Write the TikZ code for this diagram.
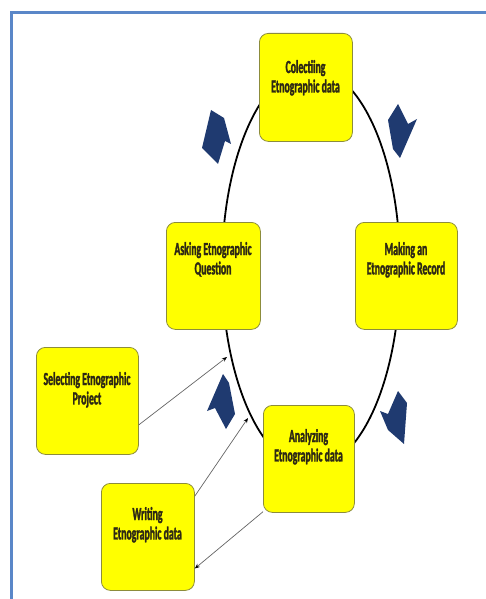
\documentclass[tikz,border=0pt]{standalone}
\usepackage{fontspec}
\newfontfamily\boxfont[FakeStretch=0.53, BoldFeatures={FakeBold=1.6}]{Carlito}
\usetikzlibrary{arrows.meta}
\definecolor{frameblue}{RGB}{90,135,200}
\definecolor{boxline}{RGB}{140,140,60}
\definecolor{boxyellow}{RGB}{255,255,0}
\definecolor{navy}{RGB}{31,58,112}
\definecolor{txt}{RGB}{45,40,20}
\definecolor{conn}{RGB}{100,100,100}
\newcommand\twolines[2]{\begin{tabular}[t]{@{}c@{}}#1\\#2\end{tabular}}
\tikzset{
 stagebox/.style={draw=boxline, line width=0.8bp, fill=boxyellow, rounded corners=9bp, inner sep=0pt, anchor=north west},
 stagetext/.style={anchor=base, inner sep=0pt, text=txt, font=\boxfont\bfseries\fontsize{18.5}{19.5}\selectfont},
 cycleline/.style={line width=1.8bp, black},
 link/.style={draw=conn, line width=0.7bp, -{Stealth[length=5bp,width=4bp,black]}},
 turnarrow/.style={fill=navy},
}
\begin{document}
\begin{tikzpicture}[x=1bp,y=-1bp]
\useasboundingbox (0,0) rectangle (486,599);
% frame
\draw[frameblue, line width=2.2bp] (11.5,599) -- (11.5,12.5) -- (486,12.5);
% cycle
\draw[cycleline] (311,268) ellipse [x radius=89, y radius=200];
% boxes
\node[stagebox, minimum width=93bp, minimum height=108bp] (col) at (259,33) {};
\node[stagebox, minimum width=102bp, minimum height=107bp] (mak) at (355,222) {};
\node[stagebox, minimum width=94bp, minimum height=107bp] (ask) at (166,222) {};
\node[stagebox, minimum width=91bp, minimum height=107bp] (ana) at (263,405) {};
\node[stagebox, minimum width=102bp, minimum height=107bp] (sel) at (36,347) {};
\node[stagebox, minimum width=93bp, minimum height=107bp] (wri) at (101,483) {};
% texts
\node[stagetext] (colt) at (305.5,73) {\twolines{Colectiing}{Etnographic data}};
\node[stagetext] (makt) at (406,255) {\twolines{Making an}{Etnographic Record}};
\node[stagetext] (askt) at (213,255) {\twolines{Asking Etnographic}{Question}};
\node[stagetext] (anat) at (308.5,442) {\twolines{Analyzing}{Etnographic data}};
\node[stagetext] (selt) at (87,385) {\twolines{Selecting Etnographic}{Project}};
\node[stagetext] (writ) at (147.5,520) {\twolines{Writing}{Etnographic data}};
% connectors
\coordinate (e1) at (227,357);
\coordinate (e2) at (248,418);
\draw[link] (sel.-25.7) -- (e1);
\draw[link] (wri.41) -- (e2);
\draw[link] (ana.229) -- (wri.-34);
% turning arrows
\fill[turnarrow] (211,110) -- (224,118) -- (231,144) -- (225,141) -- (218,164) -- (202,148) -- cycle;
\fill[turnarrow] (398,104) -- (408,124) -- (417,119) -- (400,158) -- (393,149) -- (388,120) -- cycle;
\fill[turnarrow] (398,391) -- (407,403) -- (404,444) -- (388,430) -- (380,411) -- (388,414) -- cycle;
\fill[turnarrow] (223,374) -- (229,383) -- (235,414) -- (226,429) -- (215,408) -- (207,411) -- cycle;
\end{tikzpicture}
\end{document}
